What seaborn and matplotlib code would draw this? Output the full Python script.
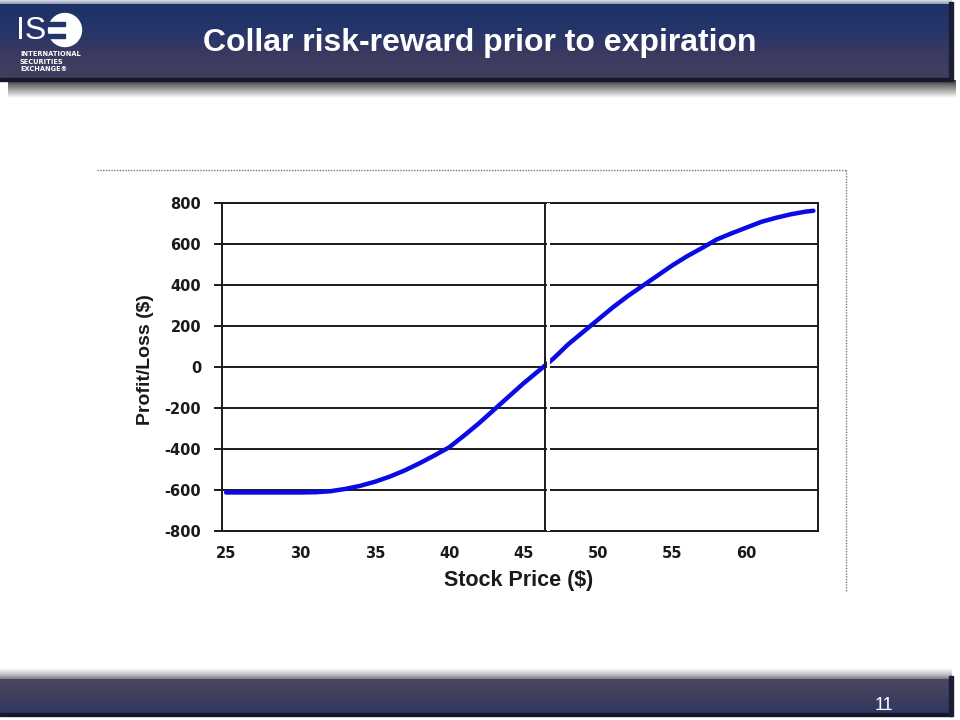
import numpy as np
import pandas as pd
import seaborn as sns
import matplotlib.pyplot as plt
from matplotlib.colors import LinearSegmentedColormap
from matplotlib.patches import Circle, Rectangle

# chart data
stock_price = [25, 26, 27, 28, 29, 30, 31, 32, 33, 34, 35, 36, 37, 38, 39, 40,
               41, 42, 43, 44, 45, 46, 47, 48, 49, 50, 51, 52, 53, 54, 55, 56,
               57, 58, 59, 60, 61, 62, 63, 64, 64.5]
profit_loss = [-612, -612, -612, -612, -612, -612, -611, -606, -595, -580, -560,
               -535, -505, -470, -432, -392, -335, -275, -210, -145, -80, -20,
               40, 110, 170, 230, 290, 345, 395, 445, 495, 540, 580, 622, 652,
               680, 708, 728, 745, 758, 762]
current_price = 46.45
x_ticks = [25, 30, 35, 40, 45, 50, 55, 60]
y_ticks = [-800, -600, -400, -200, 0, 200, 400, 600, 800]
title = "Collar risk-reward prior to expiration"
page_number = "11"

df = pd.DataFrame({"price": stock_price, "pl": profit_loss})

sns.set_style("white")
plt.rcParams["font.family"] = ["DejaVu Sans"]
plt.rcParams["axes.unicode_minus"] = False

fig = plt.figure(figsize=(9.6, 7.2), dpi=100)
fig.patch.set_facecolor("white")

# slide background: header and footer bands
bg = fig.add_axes([0, 0, 1, 1], zorder=0)


def band(x0, x1, y0, y1, colors):
    grad = np.linspace(0, 1, 100).reshape(-1, 1)
    cmap = LinearSegmentedColormap.from_list("band", colors)
    bg.imshow(grad, cmap=cmap, extent=(x0, x1, y1, y0), aspect="auto",
              interpolation="bilinear", zorder=1)


# header shadow, top highlight, band
band(8, 956, 80, 98, ["#3a3a3a", "#9a9a9a", "#ffffff"])
band(0, 952, 0, 4, ["#dfe2ea", "#8f98b4"])
band(0, 952, 4, 80, ["#1d3266", "#25356a", "#3b3a60", "#433f5f"])
bg.add_patch(Rectangle((0, 78), 952, 3, color="#15182a", zorder=2))
bg.add_patch(Rectangle((949, 2), 4, 79, color="#1a1d33", zorder=2))

# footer
band(0, 952, 668, 680, ["#ffffff", "#c6c6cc", "#6e6a7e"])
band(0, 952, 679, 714, ["#4a4660", "#3f3f5d", "#2e3762"])
bg.add_patch(Rectangle((0, 713), 952, 3, color="#15182a", zorder=2))
bg.add_patch(Rectangle((949, 676), 4, 40, color="#1a1d33", zorder=2))

# logo
bg.text(16, 31, "IS", color="white", fontsize=23, va="center", ha="left",
        family="Liberation Sans", zorder=3)
bg.add_patch(Circle((65, 30), 16.5, color="white", zorder=3))
for yy in (24, 36):
    bg.add_patch(Rectangle((46, yy - 1.6), 19, 3.2, color="#223469", zorder=4))
for i, word in enumerate(["INTERNATIONAL", "SECURITIES", "EXCHANGE\u00ae"]):
    bg.text(20, 54 + i * 7.5, word, color="white", fontsize=4.8, weight="bold",
            va="center", ha="left", zorder=3)

bg.text(480, 43, title, color="white", fontsize=23, weight="bold",
        family="Liberation Sans", ha="center", va="center", zorder=3)
bg.text(884, 705, page_number, color="white", fontsize=13,
        family="Liberation Sans", ha="center", va="center", zorder=3)

# dotted frame around the chart picture
bg.plot([97, 846], [170, 170], color="#777777", lw=1, ls=(0, (1, 1)), zorder=2)
bg.plot([846, 846], [170, 592], color="#777777", lw=1, ls=(0, (1, 1)), zorder=2)

bg.set_xlim(0, 960)
bg.set_ylim(720, 0)
bg.axis("off")

# chart
ax = fig.add_axes([0.2313, 0.2625, 0.6208, 0.4556], zorder=2)
ax.set_facecolor("white")
for y in y_ticks:
    ax.axhline(y, color="#1a1a1a", lw=1.4, zorder=1)
ax.axvline(current_price + 0.18, color="white", lw=2.2, zorder=4)
ax.axvline(current_price, color="#1a1a1a", lw=1.4, zorder=5)
sns.lineplot(data=df, x="price", y="pl", color="#0a0ae6", lw=3.2, ax=ax,
             zorder=3)

ax.set_xlim(24.73, 64.81)
ax.set_ylim(-800, 800)
ax.set_xticks(x_ticks)
ax.set_yticks(y_ticks)
ax.tick_params(axis="y", length=6, width=1.4, color="#1a1a1a", pad=9,
               left=True, labelsize=10.5)
ax.tick_params(axis="x", length=0, pad=11, labelsize=10.5)
for lab in ax.get_xticklabels() + ax.get_yticklabels():
    lab.set_fontweight("bold")
    lab.set_color("#1a1a1a")
for sp in ax.spines.values():
    sp.set_color("#1a1a1a")
    sp.set_linewidth(1.4)

ax.set_xlabel("Stock Price ($)", fontsize=15.5, weight="bold",
              family="Liberation Sans", color="#1a1a1a", va="center")
ax.xaxis.set_label_coords(0.497, -0.152)
ax.set_ylabel("Profit/Loss ($)", fontsize=14, weight="bold",
              family="Liberation Sans", color="#1a1a1a", va="center")
ax.yaxis.set_label_coords(-0.129, 0.524)

fig.savefig("out.png", dpi=100)
